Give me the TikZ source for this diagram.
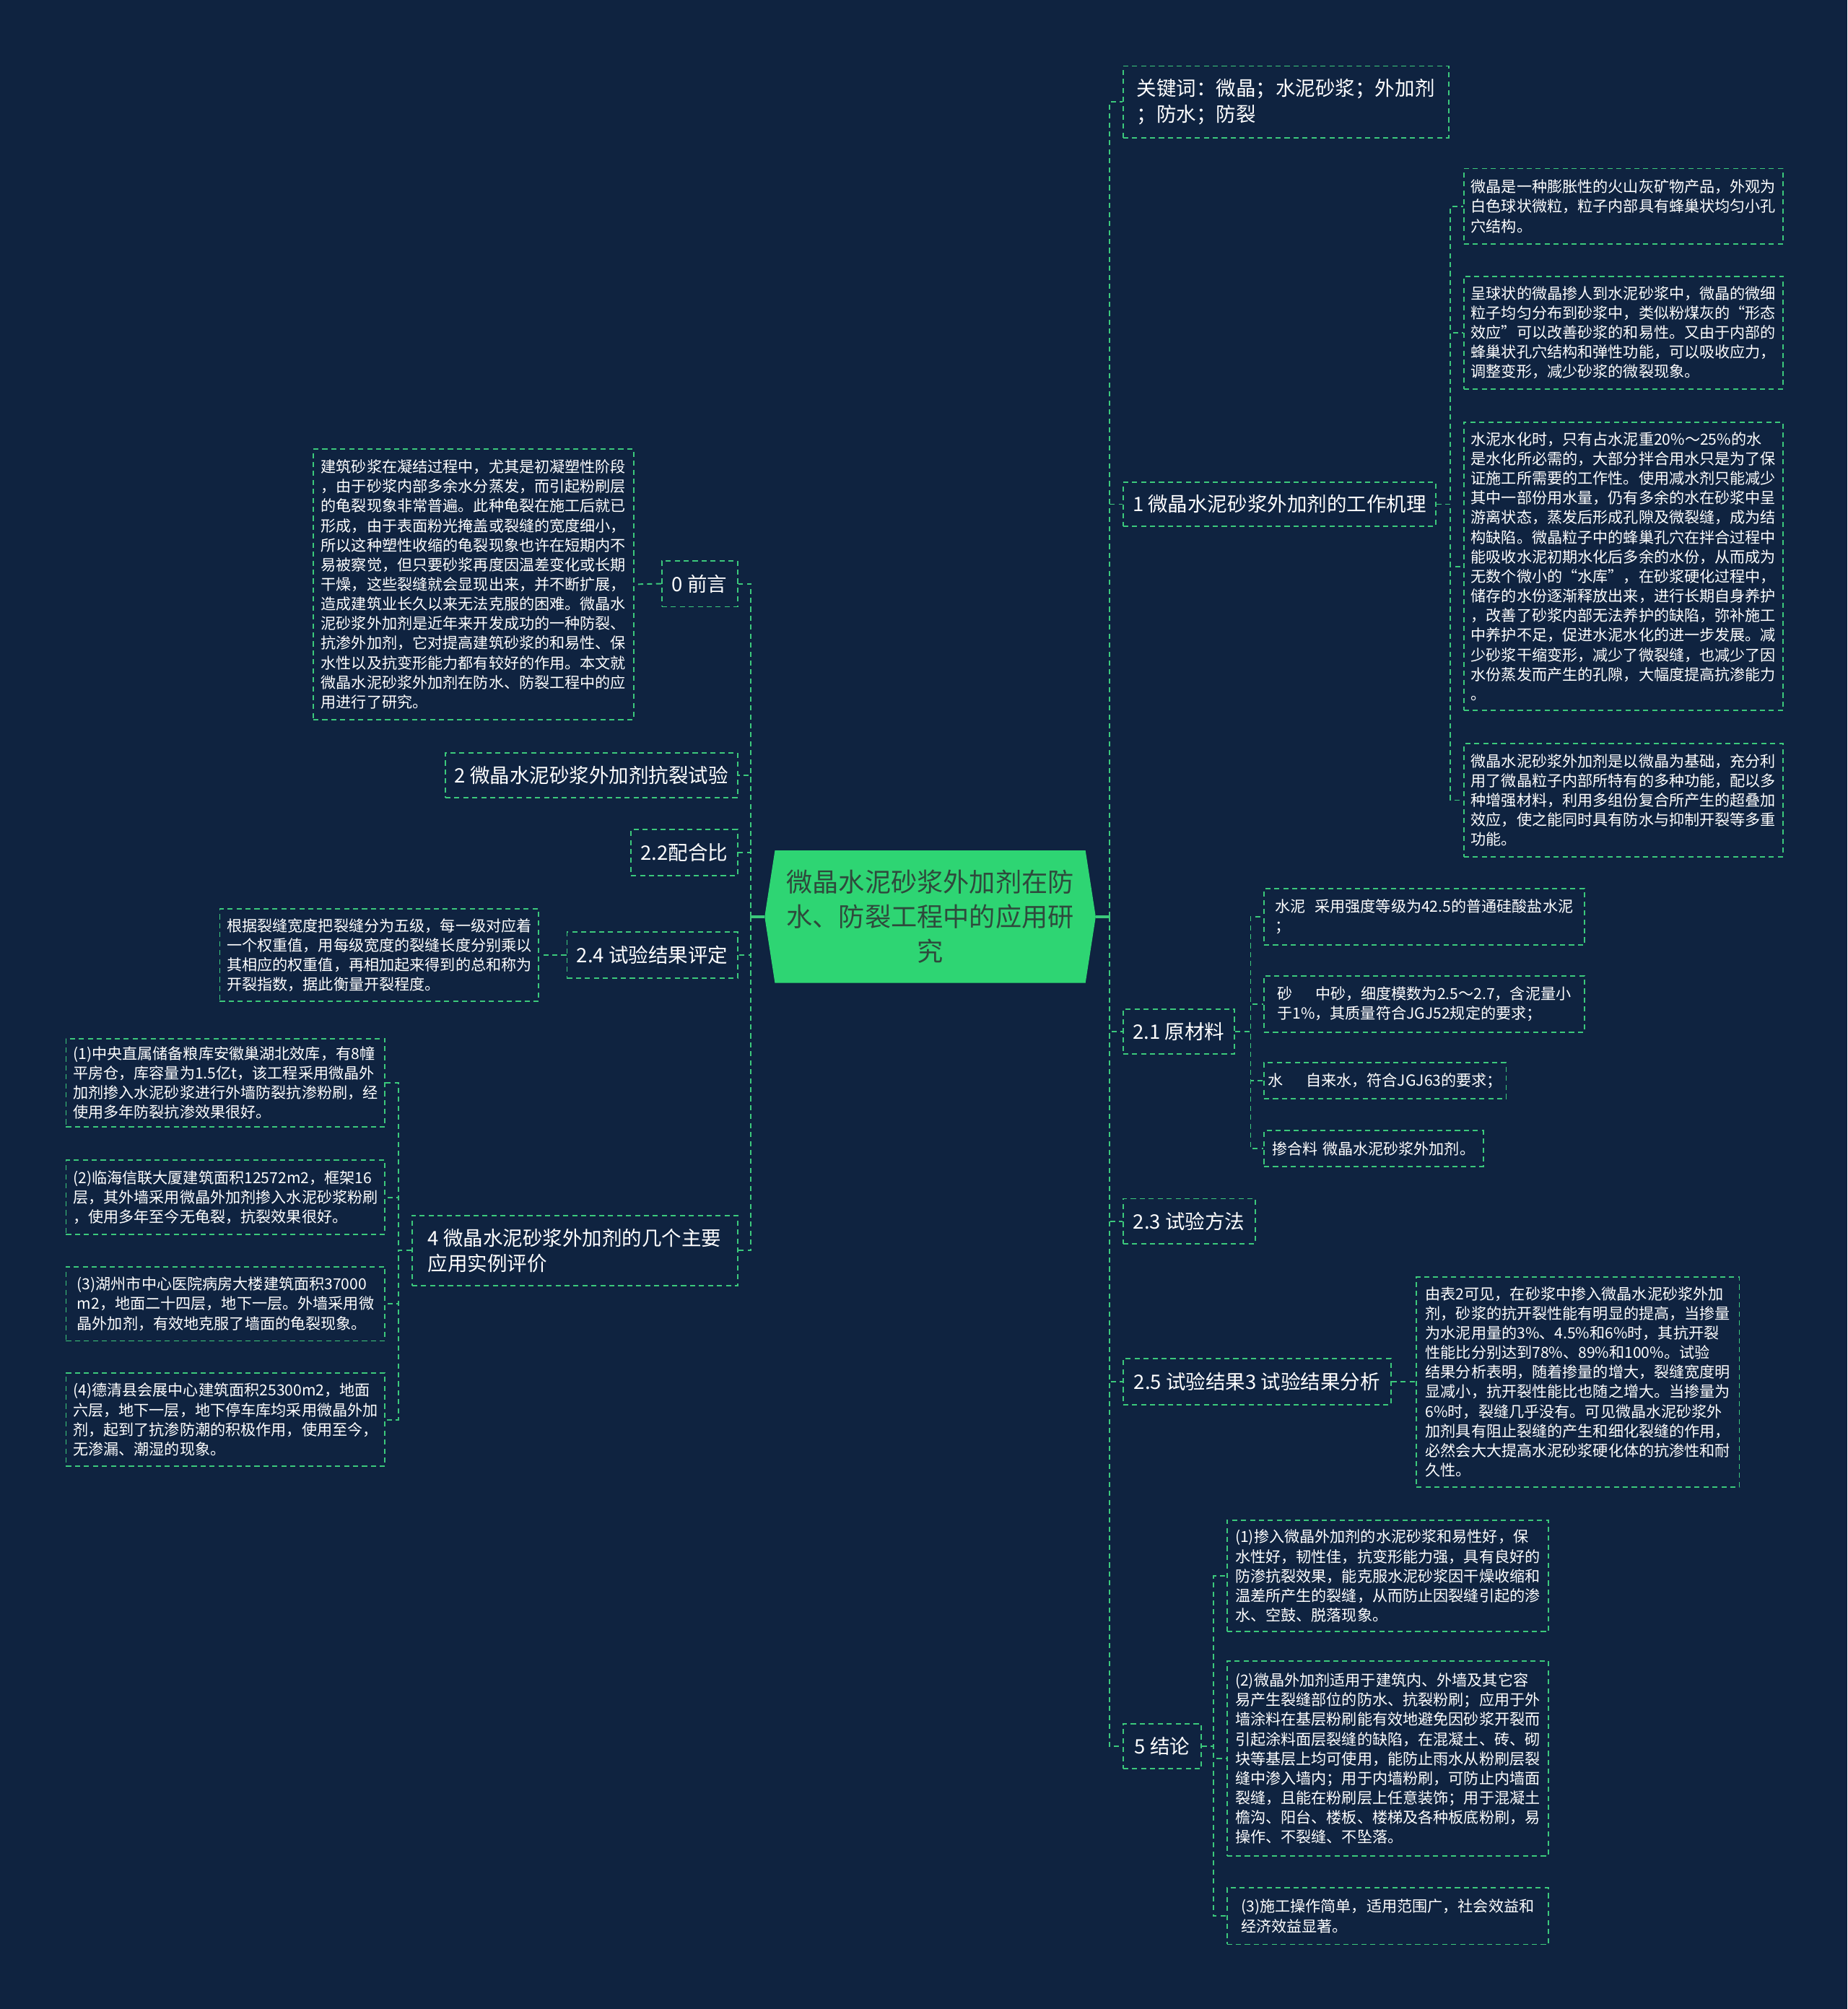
\documentclass[tikz,border=0pt]{standalone}
\usepackage{fontspec}
\setmainfont{Noto Sans CJK SC}
\usetikzlibrary{calc}
\definecolor{bg}{HTML}{0F2340}
\definecolor{ln}{HTML}{3CC97C}
\definecolor{cfill}{HTML}{2ED573}
\definecolor{ctext}{HTML}{2E4A3C}
\tikzset{
  box/.style={draw=ln, dash pattern=on 4pt off 3pt, line width=1.1pt, anchor=north west, inner sep=0pt, align=left, text=white},
  leaf/.style={box, font=\fontsize{11.9}{15.3}\selectfont},
  topic/.style={box, font=\fontsize{15.5}{20}\selectfont},
  conn/.style={draw=ln, dash pattern=on 4pt off 3pt, line width=1.1pt},
  trunk/.style={draw=ln, line width=2pt},
}
\newcommand\mybox[7]{\node[#6, minimum width=#4pt, minimum height=#5pt] (#1) at (#2,#3) {#7};}
\begin{document}
\begin{tikzpicture}[x=1pt,y=-1pt]
\fill[bg] (0,0) rectangle (1442,1568);
\useasboundingbox (0,0) rectangle (1442,1568);

% central
\node[minimum width=258pt, minimum height=103pt, inner sep=0pt, align=center, text=ctext,
      font=\fontsize{20.4}{27}\selectfont] (c) at (726,715.5) {};
\fill[cfill] ($(c.north west)+(8,0)$) -- ($(c.north east)+(-8,0)$) -- (c.east) -- ($(c.south east)+(-8,0)$) -- ($(c.south west)+(8,0)$) -- (c.west) -- cycle;
\node[align=center, text=ctext, font=\fontsize{20.4}{27}\selectfont, inner sep=0pt] (ct) at (c.center) {微晶水泥砂浆外加剂在防\\水、防裂工程中的应用研\\究};

% ---------- right side ----------
\mybox{kw}{876}{51}{254}{56}{topic}{关键词：微晶；水泥砂浆；外加剂\\；防水；防裂}
\mybox{n1}{876}{376}{244}{34}{topic}{1 微晶水泥砂浆外加剂的工作机理}
\mybox{A}{1142}{131}{249}{59}{leaf}{微晶是一种膨胀性的火山灰矿物产品，外观为\\白色球状微粒，粒子内部具有蜂巢状均匀小孔\\穴结构。}
\mybox{B}{1142}{215}{249}{88}{leaf}{呈球状的微晶掺人到水泥砂浆中，微晶的微细\\粒子均匀分布到砂浆中，类似粉煤灰的“形态\\效应”可以改善砂浆的和易性。又由于内部的\\蜂巢状孔穴结构和弹性功能，可以吸收应力，\\调整变形，减少砂浆的微裂现象。}
\mybox{C}{1142}{329}{249}{225}{leaf}{水泥水化时，只有占水泥重20\%～25\%的水\\是水化所必需的，大部分拌合用水只是为了保\\证施工所需要的工作性。使用减水剂只能减少\\其中一部份用水量，仍有多余的水在砂浆中呈\\游离状态，蒸发后形成孔隙及微裂缝，成为结\\构缺陷。微晶粒子中的蜂巢孔穴在拌合过程中\\能吸收水泥初期水化后多余的水份，从而成为\\无数个微小的“水库”，在砂浆硬化过程中，\\储存的水份逐渐释放出来，进行长期自身养护\\，改善了砂浆内部无法养护的缺陷，弥补施工\\中养护不足，促进水泥水化的进一步发展。减\\少砂浆干缩变形，减少了微裂缝，也减少了因\\水份蒸发而产生的孔隙，大幅度提高抗渗能力\\。}
\mybox{D}{1142}{580}{249}{88}{leaf}{微晶水泥砂浆外加剂是以微晶为基础，充分利\\用了微晶粒子内部所特有的多种功能，配以多\\种增强材料，利用多组份复合所产生的超叠加\\效应，使之能同时具有防水与抑制开裂等多重\\功能。}

\mybox{n21}{876}{787}{87}{35}{topic}{2.1 原材料}
\mybox{w1}{986}{693}{250}{44}{leaf}{水泥\hspace{0.6em}采用强度等级为42.5的普通硅酸盐水泥\\；}
\mybox{w2}{986}{761}{250}{44}{leaf}{砂\hspace{1.5em}中砂，细度模数为2.5～2.7，含泥量小\\于1\%，其质量符合JGJ52规定的要求；}
\mybox{w3}{986}{829}{189}{28}{leaf}{水\hspace{1.5em}自来水，符合JGJ63的要求；}
\mybox{w4}{986}{882}{171}{28}{leaf}{掺合料\hspace{0.3em}微晶水泥砂浆外加剂。}

\mybox{n23}{876}{935}{103}{35}{topic}{2.3 试验方法}
\mybox{n25}{876}{1060}{209}{36}{topic}{2.5 试验结果3 试验结果分析}
\mybox{l25}{1105}{996}{252}{164}{leaf}{由表2可见，在砂浆中掺入微晶水泥砂浆外加\\剂，砂浆的抗开裂性能有明显的提高，当掺量\\为水泥用量的3\%、4.5\%和6\%时，其抗开裂\\性能比分别达到78\%、89\%和100\%。试验\\结果分析表明，随着掺量的增大，裂缝宽度明\\显减小，抗开裂性能比也随之增大。当掺量为\\6\%时，裂缝几乎没有。可见微晶水泥砂浆外\\加剂具有阻止裂缝的产生和细化裂缝的作用，\\必然会大大提高水泥砂浆硬化体的抗渗性和耐\\久性。}

\mybox{n5}{876}{1345}{61}{35}{topic}{5 结论}
\mybox{c1}{957}{1186}{251}{87}{leaf}{(1)掺入微晶外加剂的水泥砂浆和易性好，保\\水性好，韧性佳，抗变形能力强，具有良好的\\防渗抗裂效果，能克服水泥砂浆因干燥收缩和\\温差所产生的裂缝，从而防止因裂缝引起的渗\\水、空鼓、脱落现象。}
\mybox{c2}{957}{1296}{251}{152}{leaf}{(2)微晶外加剂适用于建筑内、外墙及其它容\\易产生裂缝部位的防水、抗裂粉刷；应用于外\\墙涂料在基层粉刷能有效地避免因砂浆开裂而\\引起涂料面层裂缝的缺陷，在混凝土、砖、砌\\块等基层上均可使用，能防止雨水从粉刷层裂\\缝中渗入墙内；用于内墙粉刷，可防止内墙面\\裂缝，且能在粉刷层上任意装饰；用于混凝土\\檐沟、阳台、楼板、楼梯及各种板底粉刷，易\\操作、不裂缝、不坠落。}
\mybox{c3}{957}{1473}{251}{44}{leaf}{(3)施工操作简单，适用范围广，社会效益和\\经济效益显著。}

% ---------- left side ----------
\mybox{n0}{516}{437}{59}{36}{topic}{0 前言}
\mybox{l0}{244}{350}{250}{211}{leaf}{建筑砂浆在凝结过程中，尤其是初凝塑性阶段\\，由于砂浆内部多余水分蒸发，而引起粉刷层\\的龟裂现象非常普遍。此种龟裂在施工后就已\\形成，由于表面粉光掩盖或裂缝的宽度细小，\\所以这种塑性收缩的龟裂现象也许在短期内不\\易被察觉，但只要砂浆再度因温差变化或长期\\干燥，这些裂缝就会显现出来，并不断扩展，\\造成建筑业长久以来无法克服的困难。微晶水\\泥砂浆外加剂是近年来开发成功的一种防裂、\\抗渗外加剂，它对提高建筑砂浆的和易性、保\\水性以及抗变形能力都有较好的作用。本文就\\微晶水泥砂浆外加剂在防水、防裂工程中的应\\用进行了研究。}
\mybox{n2}{347}{587}{228}{35}{topic}{2 微晶水泥砂浆外加剂抗裂试验}
\mybox{n22}{492}{647}{83}{36}{topic}{2.2配合比}
\mybox{n24}{442}{727}{133}{36}{topic}{2.4 试验结果评定}
\mybox{l24}{171}{709}{249}{72}{leaf}{根据裂缝宽度把裂缝分为五级，每一级对应着\\一个权重值，用每级宽度的裂缝长度分别乘以\\其相应的权重值，再相加起来得到的总和称为\\开裂指数，据此衡量开裂程度。}
\mybox{n4}{321}{948}{254}{55}{topic}{4 微晶水泥砂浆外加剂的几个主要\\应用实例评价}
\mybox{e1}{51}{810}{249}{69}{leaf}{(1)中央直属储备粮库安徽巢湖北效库，有8幢\\平房仓，库容量为1.5亿t，该工程采用微晶外\\加剂掺入水泥砂浆进行外墙防裂抗渗粉刷，经\\使用多年防裂抗渗效果很好。}
\mybox{e2}{51}{905}{249}{58}{leaf}{(2)临海信联大厦建筑面积12572m2，框架16\\层，其外墙采用微晶外加剂掺入水泥砂浆粉刷\\，使用多年至今无龟裂，抗裂效果很好。}
\mybox{e3}{51}{988}{249}{58}{leaf}{(3)湖州市中心医院病房大楼建筑面积37000\\m2，地面二十四层，地下一层。外墙采用微\\晶外加剂，有效地克服了墙面的龟裂现象。}
\mybox{e4}{51}{1071}{249}{73}{leaf}{(4)德清县会展中心建筑面积25300m2，地面\\六层，地下一层，地下停车库均采用微晶外加\\剂，起到了抗渗防潮的积极作用，使用至今，\\无渗漏、潮湿的现象。}

% ---------- connectors ----------
\coordinate (rt) at (866,715.5);
\coordinate (lt) at (586,715.5);
\draw[trunk] (c.east) -- (rt);
\draw[trunk] (c.west) -- (lt);
\foreach \n in {kw,n1,n21,n23,n25,n5} \draw[conn] (rt) |- (\n.west);
\foreach \n in {n0,n2,n22,n24,n4} \draw[conn] (lt) |- (\n.east);

\foreach \n in {A,B,C,D} \draw[conn] (n1.east) -- ++(11,0) |- (\n.west);
\foreach \n in {w1,w2,w3,w4} \draw[conn] (n21.east) -- ++(12,0) |- (\n.west);
\foreach \n in {c1,c2,c3} \draw[conn] (n5.east) -- ++(9,0) |- (\n.west);
\foreach \n in {e1,e2,e3,e4} \draw[conn] (n4.west) -- ++(-10,0) |- (\n.east);
\draw[conn] (n25.east) -- (l25.west);
\draw[conn] (n0.west) -- (l0.east);
\draw[conn] (n24.west) -- (l24.east);
\end{tikzpicture}
\end{document}
